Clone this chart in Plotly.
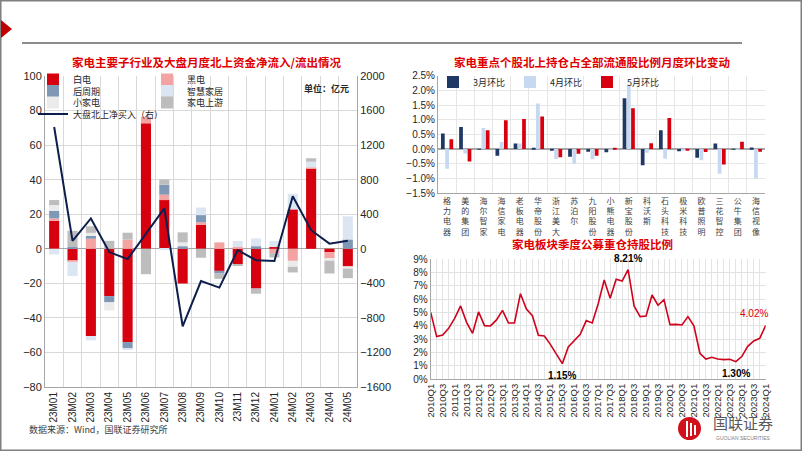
import plotly.graph_objects as go

W, H = 802, 451
def fx(x): return x / W
def fy(y): return 1 - y / H

# ---------------- data: left chart (亿元 / 右轴) ----------------
months = ['23M01', '23M02', '23M03', '23M04', '23M05', '23M06', '23M07', '23M08', '23M09',
          '23M10', '23M11', '23M12', '24M01', '24M02', '24M03', '24M04', '24M05']
baidian = [16.2, -7.0, -50.5, -27.4, -54.0, 72.6, 28.2, -20.1, 13.9, -12.8, -8.9, -23.0, 1.0, 22.8, 46.5, -2.0, -10.2]
heidian = [1.4, -0.5, 5.8, 0.0, 5.3, 3.8, 3.1, 0.0, 1.4, 3.7, 1.0, 0.0, -2.5, -7.0, 0.5, -3.8, 0.0]
houzhouqi = [4.4, 1.0, 1.6, -3.6, -3.8, 0.0, 5.8, 1.5, 4.2, -1.5, 0.0, 1.5, 0.0, 0.0, 0.0, 0.0, 5.4]
zhihui = [-3.3, -8.3, -2.5, 0.0, -0.6, 0.0, -0.8, 0.0, 4.4, 0.0, 3.5, 4.5, 3.6, 9.0, 3.4, 0.0, 13.4]
xiaojiadian = [3.3, 0.0, 1.8, -4.7, 0.0, 0.0, 0.0, 2.2, 0.0, 0.0, 0.0, 0.0, 0.0, -3.4, 0.0, -1.1, -1.3]
shangyou = [2.9, 9.4, 3.8, 4.6, 4.0, -14.7, 3.0, 5.8, -5.2, -3.1, -1.1, -3.0, -2.5, -3.3, 2.0, -7.4, -5.5]
north = [1410, 92, 351, -38, -120, 170, 467, -897, -374, -449, -16, -132, -142, 609, 215, 59, 92]

# ---------------- data: top-right chart (%) ----------------
stocks = ['格力电器', '美的集团', '海尔智家', '海信家电', '老板电器', '华帝股份', '浙江美大', '苏泊尔',
          '九阳股份', '小熊电器', '新宝股份', '科沃斯', '石头科技', '极米科技', '欧普照明', '三花智控',
          '公牛集团', '海信视像']
mar_chg = [0.53, 0.75, 0.01, -0.23, 0.19, 0.03, -0.06, -0.26, -0.09, -0.11, 1.73, -0.55, 0.64, -0.08, -0.30, 0.19, 0.01, 0.05]
apr_chg = [-0.67, -0.15, 0.72, 0.24, 0.19, 1.55, -0.34, -0.49, -0.35, -0.01, 2.15, -0.13, -0.33, -0.05, -0.38, -0.84, 0.01, -1.00]
may_chg = [0.33, -0.43, 0.64, 0.98, 1.02, 1.11, -0.28, -0.16, -0.23, 0.02, 1.39, 0.20, 1.06, -0.05, -0.10, -0.53, 0.25, -0.09]

# ---------------- data: bottom-right chart (%) ----------------
quarters = ['2010Q1', '2010Q2', '2010Q3', '2010Q4', '2011Q1', '2011Q2', '2011Q3', '2011Q4',
            '2012Q1', '2012Q2', '2012Q3', '2012Q4', '2013Q1', '2013Q2', '2013Q3', '2013Q4',
            '2014Q1', '2014Q2', '2014Q3', '2014Q4', '2015Q1', '2015Q2', '2015Q3', '2015Q4',
            '2016Q1', '2016Q2', '2016Q3', '2016Q4', '2017Q1', '2017Q2', '2017Q3', '2017Q4',
            '2018Q1', '2018Q2', '2018Q3', '2018Q4', '2019Q1', '2019Q2', '2019Q3', '2019Q4',
            '2020Q1', '2020Q2', '2020Q3', '2020Q4', '2021Q1', '2021Q2', '2021Q3', '2021Q4',
            '2022Q1', '2022Q2', '2022Q3', '2022Q4', '2023Q1', '2023Q2', '2023Q3', '2023Q4',
            '2024Q1']
fund_ratio = [5.0, 3.18, 3.3, 3.8, 4.55, 5.48, 4.25, 3.43, 5.03, 4.0,
              3.98, 4.43, 5.15, 4.2, 4.2, 6.4, 5.25, 4.75, 3.28, 3.22,
              2.6, 1.9, 1.15, 2.4, 2.85, 3.35, 4.38, 4.2, 5.65, 7.43,
              6.05, 7.48, 7.35, 8.21, 5.48, 4.68, 4.73, 6.3, 5.53, 5.95,
              4.08, 4.1, 4.05, 4.68, 3.98, 1.93, 1.5, 1.63, 1.5, 1.45,
              1.48, 1.30, 1.68, 2.45, 2.85, 3.05, 4.02]
quarter_ticks = [q if i % 2 == 0 else '' for i, q in enumerate(quarters)]

CJK = 'Noto Sans CJK SC'
NUM = 'Liberation Sans'
RED = '#D7000F'
GRID = '#D9D9D9'
AXIS = '#A6A6A6'

fig = go.Figure()

left_series = [
    ('白电', baidian, RED, 'legend'),
    ('黑电', heidian, '#F4A3A3', 'legend'),
    ('后周期', houzhouqi, '#7F98B5', 'legend2'),
    ('智慧家居', zhihui, '#DCE6F2', 'legend2'),
    ('小家电', xiaojiadian, '#EBEBEB', 'legend3'),
    ('家电上游', shangyou, '#BDBDBD', 'legend3'),
]
for name, vals, color, lg in left_series:
    fig.add_trace(go.Bar(x=months, y=vals, name=name, marker_color=color, width=0.55,
                         marker_line_width=0, xaxis='x', yaxis='y', legend=lg))
fig.add_trace(go.Scatter(x=months, y=north, name='大盘北上净买入（右）', mode='lines',
                         line=dict(color='#0D1E4C', width=2), xaxis='x', yaxis='y2', legend='legend4'))

for name, vals, color, og in [('3月环比', mar_chg, '#1F3864', 'a'),
                              ('4月环比', apr_chg, '#C6D9F0', 'b'),
                              ('5月环比', may_chg, RED, 'c')]:
    fig.add_trace(go.Bar(x=['<br>'.join(s) for s in stocks], y=vals, name=name,
                         marker_color=color, marker_line_width=0, offsetgroup=og,
                         xaxis='x3', yaxis='y3', legend='legend5'))

fig.add_trace(go.Scatter(x=quarters, y=fund_ratio, mode='lines', line=dict(color='#D0021B', width=1.6),
                         xaxis='x4', yaxis='y4', showlegend=False))

tickfont = dict(family=NUM, size=11, color='#262626')
legend_common = dict(orientation='h', bgcolor='rgba(0,0,0,0)', font=dict(family=CJK, size=9, color='#262626'),
                     itemwidth=30, entrywidth=69, entrywidthmode='pixels', xanchor='left', yanchor='middle',
                     traceorder='normal', borderwidth=0)

fig.update_layout(
    width=W, height=H, margin=dict(l=0, r=0, t=0, b=0, pad=0, autoexpand=False),
    paper_bgcolor='white', plot_bgcolor='white',
    barmode='relative', bargap=0.3, bargroupgap=0.12,
    legend=dict(legend_common, x=fx(33), y=fy(79.5)),
    legend2=dict(legend_common, x=fx(33), y=fy(91)),
    legend3=dict(legend_common, x=fx(33), y=fy(102.5)),
    legend4=dict(legend_common, x=fx(33), y=fy(114), entrywidth=0),
    legend5=dict(legend_common, x=fx(433), y=fy(82), entrywidth=0),
    xaxis=dict(domain=[fx(45), fx(357)], anchor='y', type='category', tickangle=-90,
               tickfont=dict(family=NUM, size=10, color='#262626'), showgrid=True, gridcolor=GRID,
               tickson='boundaries', showline=True, linecolor=AXIS, ticks=''),
    yaxis=dict(domain=[fy(387), fy(76)], anchor='x', range=[-80, 100], dtick=20, tickfont=tickfont,
               showgrid=True, gridcolor=GRID, zeroline=True, zerolinecolor=AXIS, zerolinewidth=1,
               showline=True, linecolor=AXIS, ticks=''),
    yaxis2=dict(overlaying='y', side='right', anchor='x', range=[-1600, 2000], dtick=400, tickfont=tickfont,
                showgrid=False, zeroline=False, showline=True, linecolor=AXIS, ticks=''),
    xaxis3=dict(domain=[fx(438), fx(765)], anchor='y3', type='category', tickangle=0,
                tickfont=dict(family=CJK, size=8, color='#404040'), showgrid=True, gridcolor='#E6E6E6',
                tickson='boundaries', showline=True, linecolor=AXIS, ticks=''),
    yaxis3=dict(domain=[fy(193), fy(75.7)], anchor='x3', range=[-1.5, 2.5], dtick=0.5, tickformat='.1f',
                ticksuffix='%', tickfont=dict(family=NUM, size=10, color='#262626'), showgrid=True,
                gridcolor='#E6E6E6', zeroline=True, zerolinecolor=AXIS, showline=True, linecolor=AXIS, ticks=''),
    xaxis4=dict(domain=[fx(430.7), fx(765.7)], anchor='y4', type='category', range=[0, 56],
                tickmode='array', tickvals=quarters, ticktext=quarter_ticks, tickangle=-90,
                tickfont=dict(family=NUM, size=9.5, color='#262626'), showgrid=True, gridcolor='#E3E3E3',
                showline=True, linecolor=AXIS, ticks=''),
    yaxis4=dict(domain=[fy(379), fy(259)], anchor='x4', range=[0, 9], dtick=1, ticksuffix='%',
                tickfont=dict(family=NUM, size=10, color='#262626'), showgrid=True, gridcolor='#E3E3E3',
                zeroline=False, showline=True, linecolor=AXIS, ticks=''),
)

ann = []
def text(x, y, s, size=11, color='#262626', xanchor='center', bold=False, family=CJK):
    ann.append(dict(xref='paper', yref='paper', x=fx(x), y=fy(y), text=f'<b>{s}</b>' if bold else s,
                    showarrow=False, xanchor=xanchor, yanchor='middle',
                    font=dict(family=family, size=size, color=color)))

text(206, 62, '家电主要子行业及大盘月度北上资金净流入/流出情况', size=11.5, color='#E00000', bold=True)
text(592, 62, '家电重点个股北上持仓占全部流通股比例月度环比变动', size=11.5, color='#E00000', bold=True)
text(592, 244, '家电板块季度公募重仓持股比例', size=11.5, color='#E00000', bold=True)
text(302, 89, '单位：亿元', size=9, xanchor='left', bold=True)
text(27, 429, '数据来源：Wind，国联证券研究所', size=9, color='#404040', xanchor='left')
text(743, 422, '国联证券', size=15, color='#595959')
text(743, 438, 'GUOLIAN SECURITIES', size=5, color='#808080', family=NUM)

fig.update_layout(annotations=ann)

# data labels on the bottom-right line (anchored to data)
for i, lab, col, ys, xs in [(33, '8.21%', '#000000', 11, 0), (22, '1.15%', '#000000', -12, 0),
                            (51, '1.30%', '#000000', -12, 0), (56, '4.02%', '#E00000', 12, -12)]:
    fig.add_annotation(x=quarters[i], y=fund_ratio[i], xref='x4', yref='y4', text=f'<b>{lab}</b>' if col == '#000000' else lab,
                       showarrow=False, yshift=ys, xshift=xs, font=dict(family=NUM, size=10, color=col))

shapes = [
    dict(type='rect', xref='paper', yref='paper', x0=0, y0=0, x1=1, y1=1,
         line=dict(color='#7F7F7F', width=3), fillcolor='rgba(0,0,0,0)'),
    dict(type='path', xref='paper', yref='paper',
         path=f'M {fx(1)} {fy(20)} L {fx(12)} {fy(29)} L {fx(1)} {fy(38)} Z',
         fillcolor='#C00000', line=dict(width=0)),
    dict(type='line', xref='paper', yref='paper', x0=fx(22), x1=fx(742), y0=fy(43), y1=fy(43),
         line=dict(color='#8C8C8C', width=2)),
    dict(type='circle', xref='paper', yref='paper', x0=fx(678), x1=fx(701), y0=fy(440), y1=fy(417),
         fillcolor='#D0101B', line=dict(width=0)),
]
for k, (a, b) in enumerate([(686, 688), (690, 692), (694, 696)]):
    shapes.append(dict(type='rect', xref='paper', yref='paper', x0=fx(a), x1=fx(b),
                       y0=fy(437 - k), y1=fy(421 + k * 2), fillcolor='white', line=dict(width=0)))
fig.update_layout(shapes=shapes)

fig.write_html('out.html', config={'displayModeBar': False},
               post_script="document.body.style.margin='0';document.body.style.overflow='hidden';")
